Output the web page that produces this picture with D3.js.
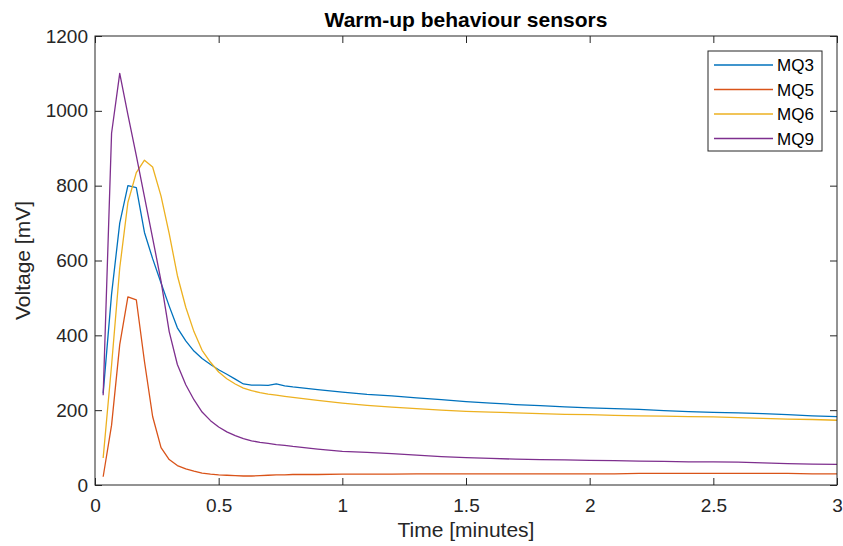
<!DOCTYPE html>
<html>
<head>
<meta charset="utf-8">
<script src="https://cdn.jsdelivr.net/npm/d3@7"></script>
<style>
  body { margin: 0; background: #fff; }
  svg { display: block; font-family: "Liberation Sans", Arial, sans-serif; }
</style>
</head>
<body>
<svg id="drawing_region"></svg>
<script>
// sample times (minutes)
const times = [0.033, 0.067, 0.1, 0.133, 0.167, 0.2, 0.233, 0.267, 0.3, 0.333, 0.367, 0.4,
  0.433, 0.467, 0.5, 0.533, 0.567, 0.6, 0.633, 0.667, 0.7, 0.733, 0.767, 0.8,
  0.9, 1.0, 1.1, 1.2, 1.3, 1.4, 1.5, 1.6, 1.7, 1.8, 1.9, 2.0, 2.1, 2.2, 2.3, 2.4,
  2.5, 2.6, 2.7, 2.8, 2.9, 3.0];

const mq3 = [245, 510, 700, 800, 795, 675, 605, 540, 478, 420, 385, 358,
  338, 322, 308, 296, 283, 270, 267, 267, 266, 270, 265, 262,
  255, 248, 242, 238, 233, 228, 223, 219, 215, 212, 209, 206, 204, 202, 199, 196,
  194, 193, 191, 188, 185, 183];
const mq5 = [22, 160, 375, 503, 495, 330, 183, 100, 68, 52, 43, 37,
  32, 29, 27, 26, 25, 24, 24, 25, 26, 27, 27, 28,
  28, 29, 29, 29, 30, 30, 30, 30, 30, 30, 30, 30, 30, 31, 31, 31,
  31, 31, 31, 31, 30, 30];
const mq6 = [72, 320, 580, 755, 835, 868, 850, 772, 672, 560, 475, 410,
  360, 328, 302, 284, 270, 259, 252, 247, 243, 240, 237, 234,
  226, 219, 213, 208, 204, 200, 197, 195, 193, 191, 189, 188, 186, 185, 184, 183,
  182, 180, 178, 176, 175, 173];
const mq9 = [240, 940, 1100, 990, 880, 770, 660, 545, 410, 322, 268, 228,
  195, 172, 155, 142, 132, 124, 118, 114, 111, 108, 106, 103,
  96, 90, 87, 84, 80, 76, 73, 71, 69, 68, 67, 66, 65, 64, 63, 62,
  62, 61, 59, 57, 56, 55];

const seriesNames = ["MQ3", "MQ5", "MQ6", "MQ9"];
const seriesColors = ["#0072BD", "#D95319", "#EDB120", "#7E2F8E"];
const xTicks = [0, 0.5, 1, 1.5, 2, 2.5, 3];
const yTicks = [0, 200, 400, 600, 800, 1000, 1200];

const width = 843, height = 546;
const margin = {top: 36, right: 6, bottom: 61, left: 95};
const innerW = width - margin.left - margin.right;
const innerH = height - margin.top - margin.bottom;
const axisColor = "#262626";
const tickLen = 7;

const svg = d3.select("#drawing_region")
    .attr("width", width)
    .attr("height", height);

const chart = svg.append("g")
    .attr("transform", `translate(${margin.left}, ${margin.top})`);

const xscale = d3.scaleLinear().domain([0, 3]).range([0, innerW]);
const yscale = d3.scaleLinear().domain([0, 1200]).range([innerH, 0]);

// lines
const allSeries = [mq3, mq5, mq6, mq9];
const line = d3.line()
    .x((d, i) => xscale(times[i]))
    .y(d => yscale(d));

chart.selectAll("path.series")
    .data(allSeries)
    .enter()
    .append("path")
    .attr("class", "series")
    .attr("d", d => line(d))
    .attr("fill", "none")
    .attr("stroke", (d, i) => seriesColors[i])
    .attr("stroke-width", 1.3)
    .attr("stroke-linejoin", "round");

// axes (ticks inward, mirrored on top/right)
const fmt = d => String(d);
const styleAxis = g => {
    g.select(".domain").remove();
    g.selectAll("line").attr("stroke", axisColor);
    g.selectAll("text").attr("fill", axisColor).style("font-size", "19px");
};

chart.append("g")
    .attr("transform", `translate(0, ${innerH})`)
    .call(d3.axisBottom(xscale).tickValues(xTicks).tickFormat(fmt).tickSizeInner(-tickLen).tickSizeOuter(0).tickPadding(14))
    .call(styleAxis);
chart.append("g")
    .call(d3.axisTop(xscale).tickValues(xTicks).tickFormat("").tickSizeInner(-tickLen).tickSizeOuter(0))
    .call(styleAxis);
chart.append("g")
    .call(d3.axisLeft(yscale).tickValues(yTicks).tickFormat(fmt).tickSizeInner(-tickLen).tickSizeOuter(0).tickPadding(7))
    .call(styleAxis);
chart.append("g")
    .attr("transform", `translate(${innerW}, 0)`)
    .call(d3.axisRight(yscale).tickValues(yTicks).tickFormat("").tickSizeInner(-tickLen).tickSizeOuter(0))
    .call(styleAxis);

chart.append("rect")
    .attr("x", 0).attr("y", 0)
    .attr("width", innerW).attr("height", innerH)
    .attr("fill", "none")
    .attr("stroke", axisColor)
    .attr("stroke-width", 1);

// labels
svg.append("text")
    .attr("x", margin.left + innerW / 2)
    .attr("y", 27)
    .attr("text-anchor", "middle")
    .attr("font-weight", "bold")
    .style("font-size", "21px")
    .attr("fill", "#000")
    .text("Warm-up behaviour sensors");

svg.append("text")
    .attr("x", margin.left + innerW / 2)
    .attr("y", 537)
    .attr("text-anchor", "middle")
    .style("font-size", "21px")
    .attr("fill", axisColor)
    .text("Time [minutes]");

svg.append("text")
    .attr("transform", `translate(30, ${margin.top + innerH / 2}) rotate(-90)`)
    .attr("text-anchor", "middle")
    .style("font-size", "21px")
    .attr("fill", axisColor)
    .text("Voltage [mV]");

// legend
const legend = svg.append("g").attr("transform", "translate(708, 51)");
legend.append("rect")
    .attr("width", 114).attr("height", 100)
    .attr("fill", "#fff")
    .attr("stroke", axisColor)
    .attr("stroke-width", 1);
const items = legend.selectAll("g.item")
    .data(seriesNames)
    .enter()
    .append("g")
    .attr("class", "item")
    .attr("transform", (d, i) => `translate(0, ${14 + i * 24.5})`);
items.append("line")
    .attr("x1", 6).attr("x2", 65)
    .attr("stroke", (d, i) => seriesColors[i])
    .attr("stroke-width", 1.3);
items.append("text")
    .attr("x", 69).attr("y", 6)
    .style("font-size", "17px")
    .attr("fill", "#000")
    .text(d => d);
</script>
</body>
</html>
